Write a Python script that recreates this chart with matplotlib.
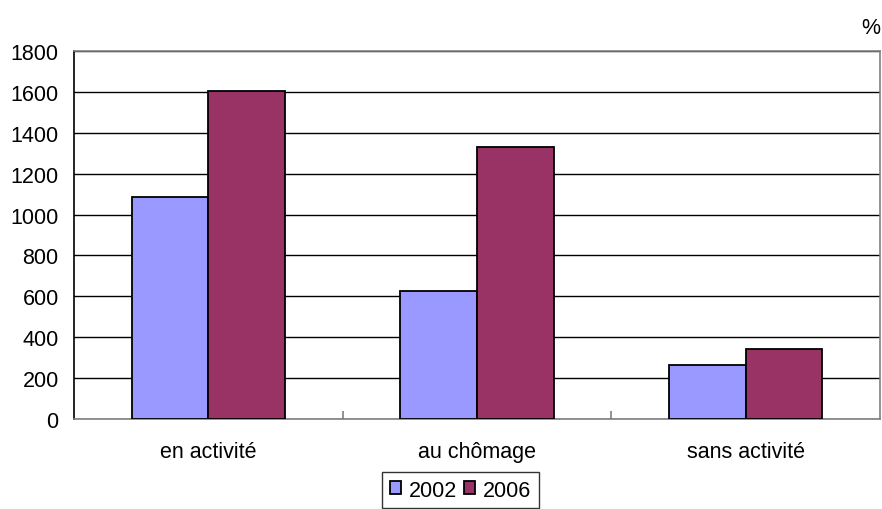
import numpy as np
import matplotlib.pyplot as plt

plt.rcParams['font.family'] = ['Liberation Sans', 'DejaVu Sans']

# data
categories = ['en activité', 'au chômage', 'sans activité']
series_names = ['2002', '2006']
values_2002 = [1085, 625, 262]
values_2006 = [1602, 1330, 340]
colors = ['#9999ff', '#993366']

fig = plt.figure(figsize=(8.82, 5.10), dpi=100)
ax = fig.add_axes([74 / 882, 1 - 420 / 510, (880 - 74) / 882, (420 - 52) / 510])

x = np.arange(len(categories))
w = 0.285
b1 = ax.bar(x - w / 2, values_2002, w, color=colors[0], edgecolor='black', linewidth=1.3,
            label=series_names[0], zorder=3)
b2 = ax.bar(x + w / 2, values_2006, w, color=colors[1], edgecolor='black', linewidth=1.3,
            label=series_names[1], zorder=3)

ax.set_xlim(-0.5, len(categories) - 0.5)
ax.set_ylim(0, 1800)
ax.set_yticks(range(0, 1801, 200))
ax.yaxis.grid(True, color='black', linewidth=1.0, zorder=0)
ax.tick_params(axis='y', length=0, labelsize=15.5, pad=11)

# category separators as small ticks on the x axis
ax.set_xticks(x)
ax.set_xticklabels(categories, fontsize=15.5)
ax.tick_params(axis='x', length=0, pad=16)
ax.set_xticks([0.5, 1.5], minor=True)
ax.tick_params(axis='x', which='minor', length=6, direction='in', color='#808080', width=1.2)

for side in ['top', 'right', 'bottom']:
    ax.spines[side].set_color('#808080')
    ax.spines[side].set_linewidth(1.2)
ax.spines['left'].set_color('black')
ax.spines['left'].set_linewidth(1.2)

fig.text(871 / 882, 1 - 28 / 510, '%', fontsize=15.5, ha='center', va='center')

leg = fig.legend(handles=[b1, b2], loc='upper left', bbox_to_anchor=(382 / 882, 1 - 473 / 510),
                 ncol=2, fontsize=15.5, frameon=True, fancybox=False, handlelength=0.55,
                 handleheight=0.55, handletextpad=0.35, columnspacing=0.3, borderpad=0.35,
                 borderaxespad=0)
leg.get_frame().set_edgecolor('black')
leg.get_frame().set_linewidth(1.0)

fig.savefig('out.png', dpi=100)
